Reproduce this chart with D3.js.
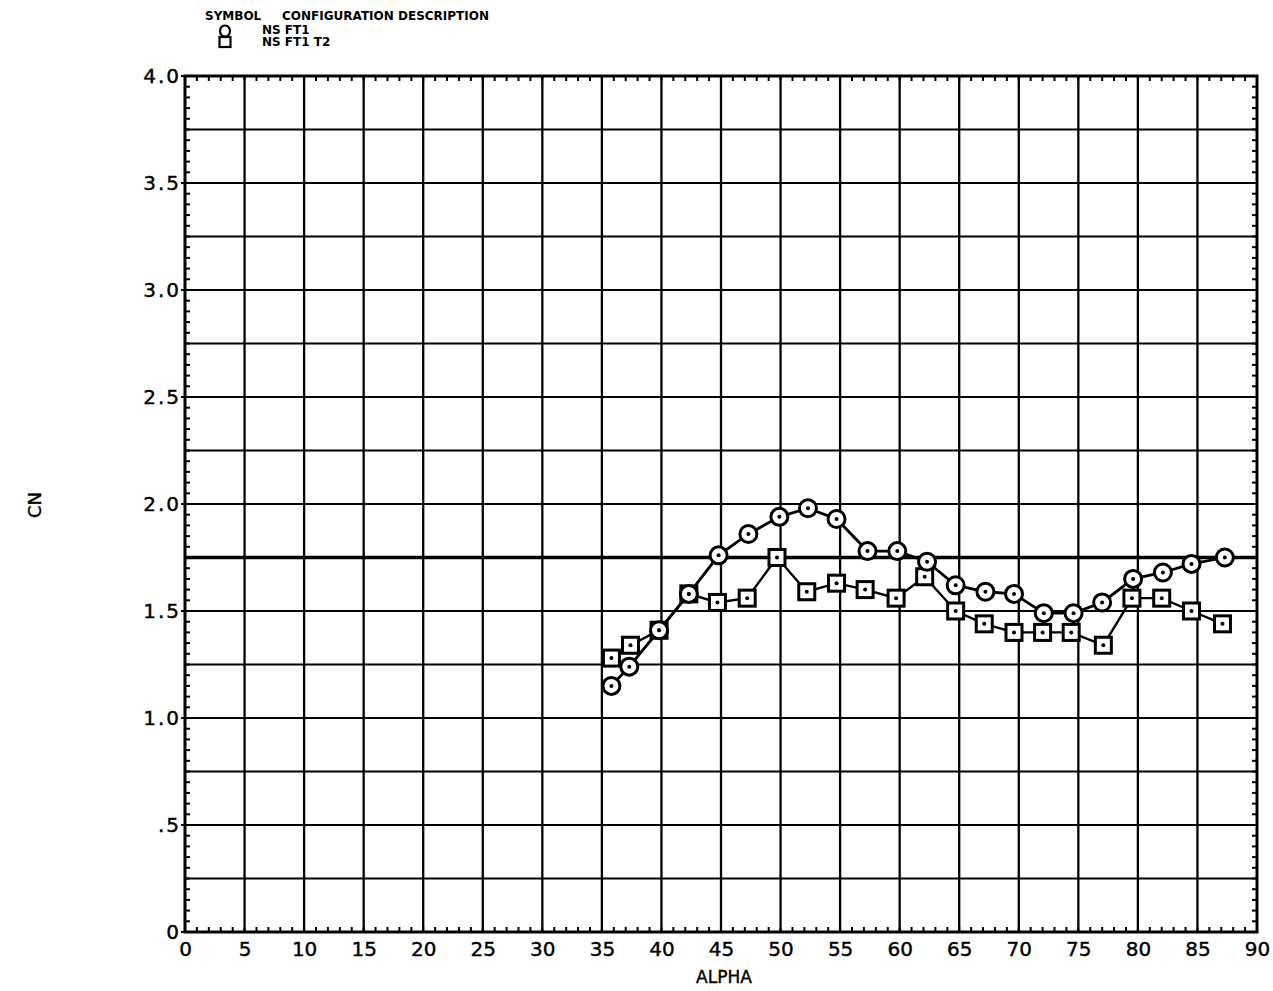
<!DOCTYPE html>
<html><head><meta charset="utf-8">
<script src="https://cdn.jsdelivr.net/npm/d3@7"></script>
<style>body{margin:0;background:#fff}svg{display:block}</style>
</head><body>
<script>
const xTicks = [0,5,10,15,20,25,30,35,40,45,50,55,60,65,70,75,80,85,90];
const yTickValues = [0,0.5,1.0,1.5,2.0,2.5,3.0,3.5,4.0];
const yTickLabels = ["0",".5","1.0","1.5","2.0","2.5","3.0","3.5","4.0"];
const seriesNames = ["NS FT1","NS FT1 T2"];
const ft1Alpha = [35.8,37.3,39.8,42.3,44.8,47.3,49.9,52.3,54.7,57.3,59.8,62.3,64.7,67.2,69.6,72.1,74.6,77.0,79.6,82.1,84.5,87.3];
const ft1CN    = [1.15,1.24,1.41,1.58,1.76,1.86,1.94,1.98,1.93,1.78,1.78,1.73,1.62,1.59,1.58,1.49,1.49,1.54,1.65,1.68,1.72,1.75];
const t2Alpha  = [35.8,37.4,39.8,42.3,44.7,47.2,49.7,52.2,54.7,57.1,59.7,62.1,64.7,67.1,69.6,72.0,74.4,77.1,79.5,82.0,84.5,87.1];
const t2CN     = [1.28,1.34,1.41,1.58,1.54,1.56,1.75,1.59,1.63,1.60,1.56,1.66,1.50,1.44,1.40,1.40,1.40,1.34,1.56,1.56,1.50,1.44];

const W=1273,H=991;
const svg=d3.select("body").append("svg").attr("width",W).attr("height",H);
const L=185,R=1257,T=76,B=932;
const x=d3.scaleLinear().domain([0,90]).range([L,R]);
const y=d3.scaleLinear().domain([0,4]).range([B,T]);
const font="DejaVu Sans";

// grid
const g=svg.append("g").attr("stroke","#000").attr("fill","none");
d3.range(5,90,5).forEach(v=>g.append("line").attr("x1",x(v)).attr("x2",x(v)).attr("y1",T).attr("y2",B).attr("stroke-width",2.3));
d3.range(0.25,4,0.25).forEach(v=>g.append("line").attr("x1",L).attr("x2",R).attr("y1",y(v)).attr("y2",y(v)).attr("stroke-width",Math.abs(v-1.75)<1e-6?3.4:2.2));
g.append("rect").attr("x",L).attr("y",T).attr("width",R-L).attr("height",B-T).attr("stroke-width",3);

// minor ticks
d3.range(1,90).forEach(v=>{
  g.append("line").attr("x1",x(v)).attr("x2",x(v)).attr("y1",B).attr("y2",B-5).attr("stroke-width",2);
  g.append("line").attr("x1",x(v)).attr("x2",x(v)).attr("y1",T).attr("y2",T+5).attr("stroke-width",2);
});
d3.range(1,80).forEach(i=>{const v=i*0.05;
  g.append("line").attr("x1",L).attr("x2",L+5).attr("y1",y(v)).attr("y2",y(v)).attr("stroke-width",2);
  g.append("line").attr("x1",R).attr("x2",R-5).attr("y1",y(v)).attr("y2",y(v)).attr("stroke-width",2);
});
yTickValues.forEach(v=>g.append("line").attr("x1",L-4).attr("x2",L).attr("y1",y(v)).attr("y2",y(v)).attr("stroke-width",2));

// axes labels
const xAxis=d3.axisBottom(x).tickValues(xTicks).tickSize(0).tickPadding(10);
const ax=svg.append("g").attr("transform",`translate(0,${B})`).call(xAxis);
ax.select(".domain").remove();
ax.selectAll("text").attr("font-family",font).attr("font-size",20).attr("fill","#000").attr("stroke","#000").attr("stroke-width",0.4);
const yAxis=d3.axisLeft(y).tickValues(yTickValues).tickFormat((d,i)=>yTickLabels[i]).tickSize(0).tickPadding(4);
const ay=svg.append("g").attr("transform",`translate(${L},0)`).call(yAxis);
ay.select(".domain").remove();
ay.selectAll("text").attr("font-family",font).attr("font-size",20).attr("fill","#000").attr("letter-spacing",2).attr("stroke","#000").attr("stroke-width",0.4);

svg.append("text").attr("x",724).attr("y",983).attr("text-anchor","middle").attr("font-family",font).attr("font-size",17).attr("stroke","#000").attr("stroke-width",0.4).text("ALPHA");
svg.append("text").attr("transform","translate(41,505) rotate(-90)").attr("text-anchor","middle").attr("font-family",font).attr("font-size",18).attr("stroke","#000").attr("stroke-width",0.4).text("CN");

// series
const line=d3.line().x(d=>x(d[0])).y(d=>y(d[1]));
const s1=ft1Alpha.map((a,i)=>[a,ft1CN[i]]);
const s2=t2Alpha.map((a,i)=>[a,t2CN[i]]);
svg.append("path").datum(s2).attr("d",line).attr("fill","none").attr("stroke","#000").attr("stroke-width",2.4);
svg.append("path").datum(s1).attr("d",line).attr("fill","none").attr("stroke","#000").attr("stroke-width",2.8);
svg.selectAll(".sq").data(s2).enter().append("rect").attr("x",d=>x(d[0])-8).attr("y",d=>y(d[1])-8).attr("width",16).attr("height",16).attr("fill","#fff").attr("stroke","#000").attr("stroke-width",3);
svg.selectAll(".ci").data(s1).enter().append("circle").attr("cx",d=>x(d[0])).attr("cy",d=>y(d[1])).attr("r",8.5).attr("fill","#fff").attr("stroke","#000").attr("stroke-width",3);
svg.selectAll(".d1").data(s1.concat(s2)).enter().append("circle").attr("cx",d=>x(d[0])).attr("cy",d=>y(d[1])).attr("r",2).attr("fill","#000");

// legend
const lg=svg.append("g").attr("font-family",font).attr("font-weight","bold");
lg.append("text").attr("x",205).attr("y",20).attr("font-size",12).text("SYMBOL");
lg.append("text").attr("x",282).attr("y",20).attr("font-size",12).text("CONFIGURATION DESCRIPTION");
lg.append("ellipse").attr("cx",225).attr("cy",31).attr("rx",5).attr("ry",5.5).attr("fill","none").attr("stroke","#000").attr("stroke-width",2.2);
lg.append("rect").attr("x",219.5).attr("y",37).attr("width",11).attr("height",10).attr("fill","none").attr("stroke","#000").attr("stroke-width",2.2);
lg.append("text").attr("x",262).attr("y",34).attr("font-size",12).text(seriesNames[0]);
lg.append("text").attr("x",262).attr("y",46).attr("font-size",12).text(seriesNames[1]);
</script>
</body></html>
